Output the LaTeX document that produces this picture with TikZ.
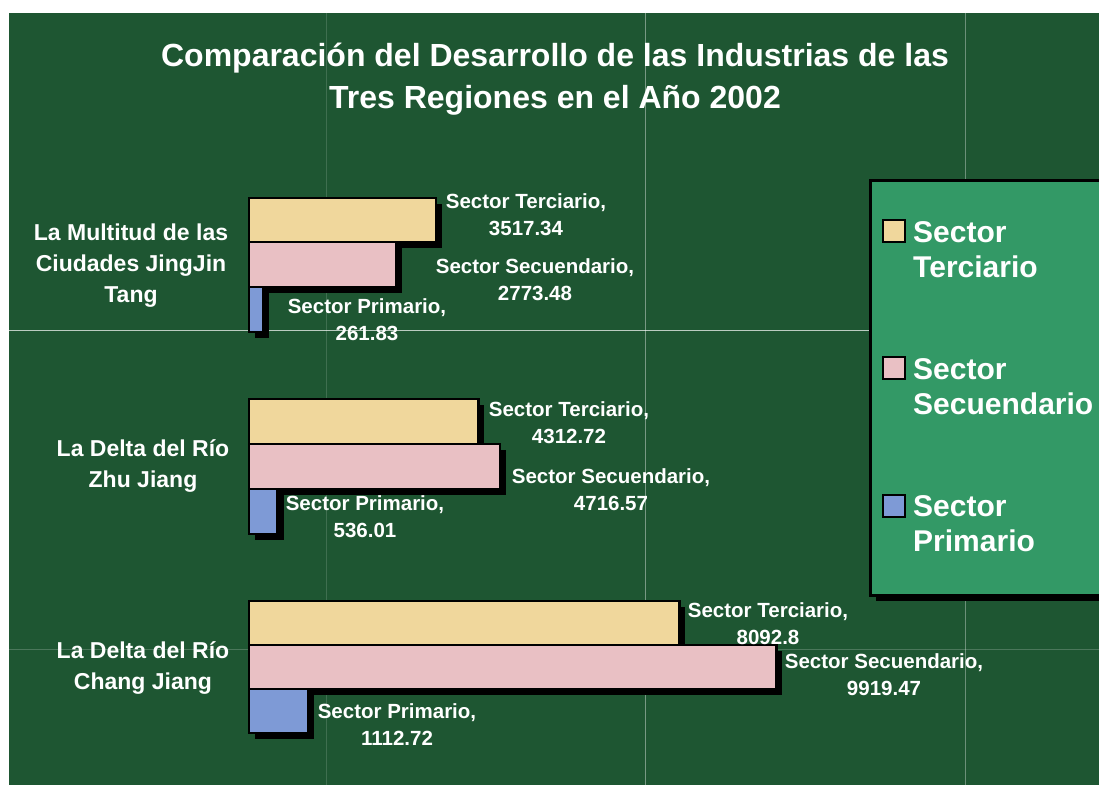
\documentclass[tikz,border=0pt]{standalone}
\usepackage{fontspec}
\setmainfont{Liberation Sans}
\definecolor{fondo}{RGB}{30,86,50}
\definecolor{barterc}{RGB}{240,215,156}
\definecolor{barsec}{RGB}{233,192,196}
\definecolor{barprim}{RGB}{126,154,214}
\definecolor{cajaley}{RGB}{51,153,102}
\begin{document}
\begin{tikzpicture}[x=1pt,y=-1pt,
    terciario/.style={draw=black,line width=2.4pt,fill=barterc},
    secundario/.style={draw=black,line width=2.4pt,fill=barsec},
    primario/.style={draw=black,line width=2.4pt,fill=barprim},
    sombra/.style={fill=black},
    costura/.style={white,line width=0.8pt},
    titulo/.style={text=white,font=\fontsize{32}{42}\selectfont\bfseries,align=center,inner sep=0pt},
    region/.style={text=white,font=\fontsize{23}{31}\selectfont\bfseries,align=center,inner sep=0pt},
    etiqueta/.style={text=white,font=\fontsize{20.5}{27}\selectfont\bfseries,align=center,inner sep=0pt},
    leyenda/.style={text=white,font=\fontsize{30}{35}\selectfont\bfseries,align=left,anchor=west,inner sep=0pt}]
  \useasboundingbox (0,0) rectangle (1099,785);
  \fill[fondo] (9,13) rectangle (1099,785);
  \draw[costura,opacity=0.15] (326,13) -- (326,785);
  \draw[costura,opacity=0.4] (645,13) -- (645,785);
  \draw[costura,opacity=0.35] (965,13) -- (965,785);
  \draw[costura,opacity=0.7] (9,330) -- (1099,330);
  \draw[costura,opacity=0.2] (9,649) -- (1099,649);

  \node[titulo] (titulo) at (555,79) {Comparación del Desarrollo de las Industrias de las\\Tres Regiones en el Año 2002};

  \fill[sombra] (255,204) rectangle ({255+0.05318*3517.34},248);
  \draw[terciario] (249,198) rectangle ({249+0.05318*3517.34},242);
  \fill[sombra] (255,248) rectangle ({255+0.05318*2773.48},293);
  \draw[secundario] (249,242) rectangle ({249+0.05318*2773.48},287);
  \fill[sombra] (255,293) rectangle ({255+0.05318*261.83},338);
  \draw[primario] (249,287) rectangle ({249+0.05318*261.83},332);

  \fill[sombra] (255,405) rectangle ({255+0.05318*4312.72},450);
  \draw[terciario] (249,399) rectangle ({249+0.05318*4312.72},444);
  \fill[sombra] (255,450) rectangle ({255+0.05318*4716.57},495);
  \draw[secundario] (249,444) rectangle ({249+0.05318*4716.57},489);
  \fill[sombra] (255,495) rectangle ({255+0.05318*536.01},540);
  \draw[primario] (249,489) rectangle ({249+0.05318*536.01},534);

  \fill[sombra] (255,607) rectangle ({255+0.05318*8092.8},651);
  \draw[terciario] (249,601) rectangle ({249+0.05318*8092.8},645);
  \fill[sombra] (255,651) rectangle ({255+0.05318*9919.47},695);
  \draw[secundario] (249,645) rectangle ({249+0.05318*9919.47},689);
  \fill[sombra] (255,695) rectangle ({255+0.05318*1112.72},739);
  \draw[primario] (249,689) rectangle ({249+0.05318*1112.72},733);

  \node[region] (jingjin) at (131,266) {La Multitud de las\\Ciudades JingJin\\Tang};
  \node[region] (zhujiang) at (143,466) {La Delta del Río\\Zhu Jiang};
  \node[region] (changjiang) at (143,668) {La Delta del Río\\Chang Jiang};

  \node[etiqueta] (jj terc) at (526,215) {Sector Terciario,\\3517.34};
  \node[etiqueta] (jj sec) at (535,280) {Sector Secuendario,\\2773.48};
  \node[etiqueta] (jj prim) at (367,320) {Sector Primario,\\261.83};
  \node[etiqueta] (zj terc) at (569,423) {Sector Terciario,\\4312.72};
  \node[etiqueta] (zj sec) at (611,490) {Sector Secuendario,\\4716.57};
  \node[etiqueta] (zj prim) at (365,517) {Sector Primario,\\536.01};
  \node[etiqueta] (cj terc) at (768,624) {Sector Terciario,\\8092.8};
  \node[etiqueta] (cj sec) at (884,675) {Sector Secuendario,\\9919.47};
  \node[etiqueta] (cj prim) at (397,725) {Sector Primario,\\1112.72};

  \fill[sombra] (876,186) rectangle (1105,601);
  \draw[draw=black,line width=3pt,fill=cajaley] (870,180) rectangle (1105,595);
  \draw[terciario,line width=1.5pt] (883,220) rectangle (905,242);
  \draw[secundario,line width=1.5pt] (883,357) rectangle (905,379);
  \draw[primario,line width=1.5pt] (883,495) rectangle (905,517);
  \node[leyenda] (ley terc) at (913,250) {Sector\\Terciario};
  \node[leyenda] (ley sec) at (913,387) {Sector\\Secuendario};
  \node[leyenda] (ley prim) at (913,524) {Sector\\Primario};
\end{tikzpicture}
\end{document}
